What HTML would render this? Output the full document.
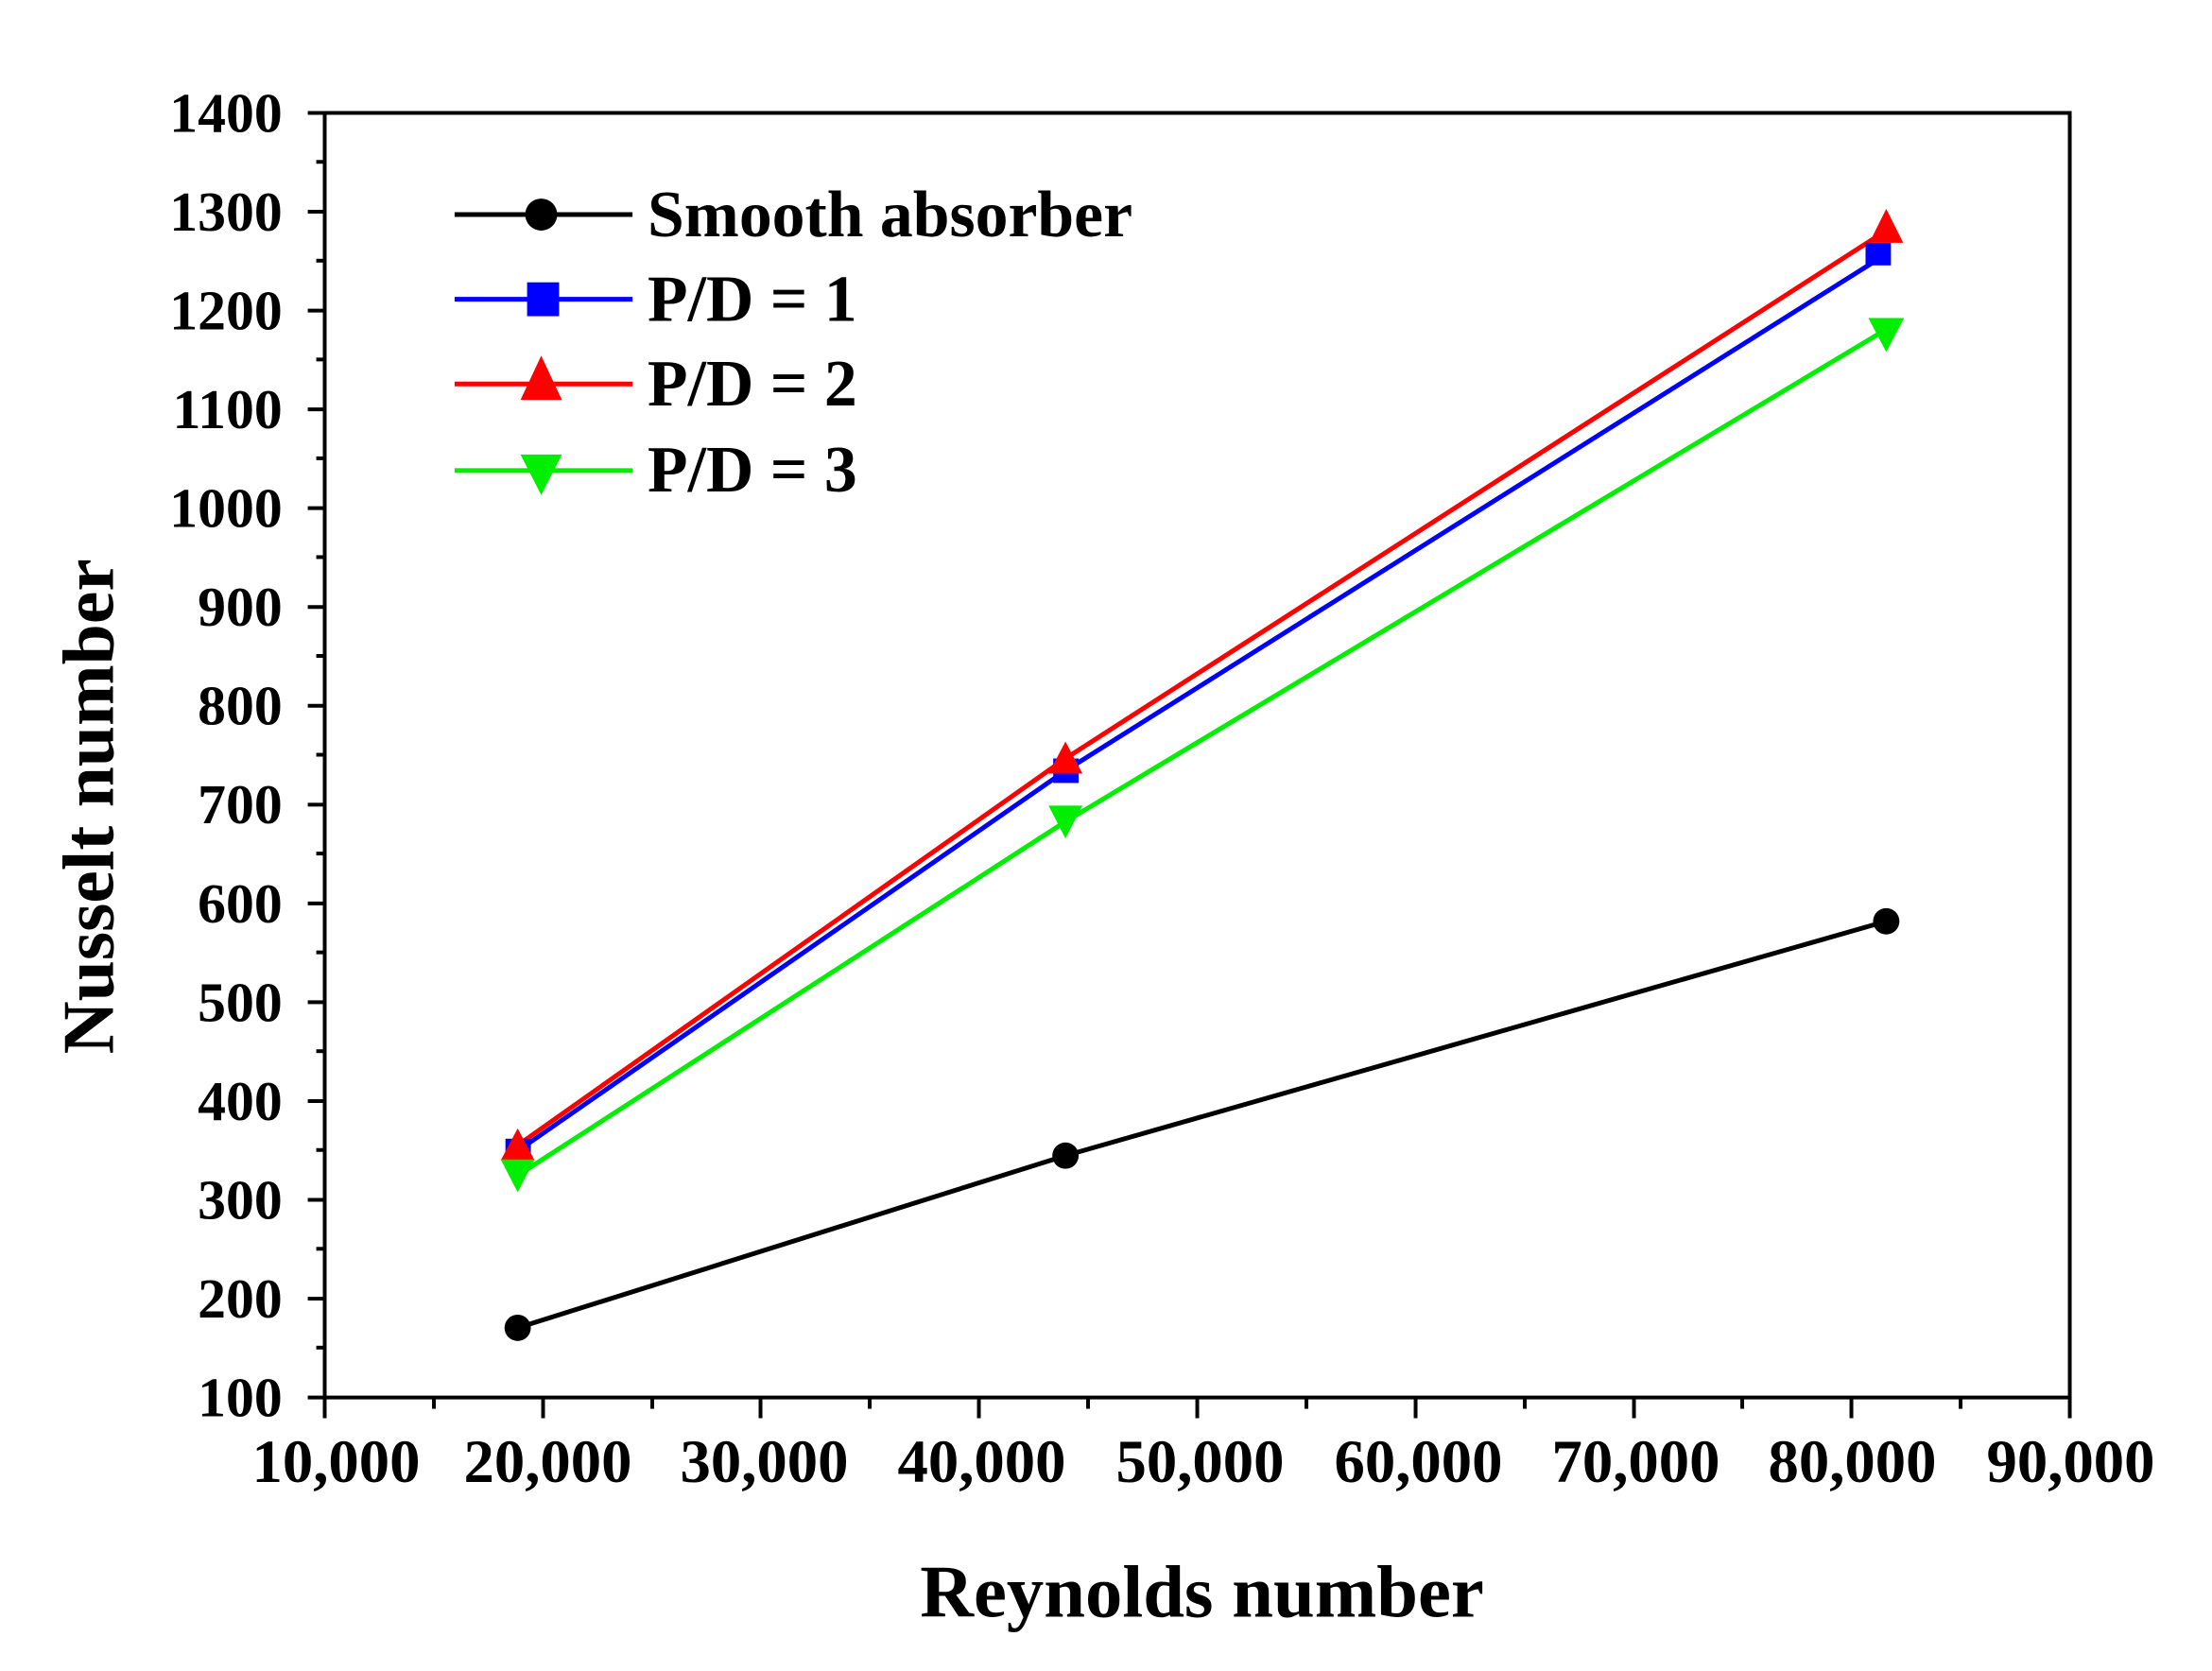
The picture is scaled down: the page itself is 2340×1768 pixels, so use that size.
<!DOCTYPE html>
<html><head><meta charset="utf-8"><style>html,body{margin:0;padding:0;background:#fff}svg{display:block}</style></head>
<body>
<svg width="2340" height="1768" viewBox="0 0 2340 1768" xmlns="http://www.w3.org/2000/svg" font-family="'Liberation Serif', serif" font-weight="bold">
<rect width="2340" height="1768" fill="#fff"/>
<g transform="scale(0.9957)">
<rect x="345" y="120" width="1854" height="1365" fill="none" stroke="#000" stroke-width="4"/>
<g stroke="#000" stroke-width="4">
<line x1="327" y1="1485" x2="345" y2="1485"/><line x1="327" y1="1380" x2="345" y2="1380"/><line x1="327" y1="1275" x2="345" y2="1275"/><line x1="327" y1="1170" x2="345" y2="1170"/><line x1="327" y1="1065" x2="345" y2="1065"/><line x1="327" y1="960" x2="345" y2="960"/><line x1="327" y1="855" x2="345" y2="855"/><line x1="327" y1="750" x2="345" y2="750"/><line x1="327" y1="645" x2="345" y2="645"/><line x1="327" y1="540" x2="345" y2="540"/><line x1="327" y1="435" x2="345" y2="435"/><line x1="327" y1="330" x2="345" y2="330"/><line x1="327" y1="225" x2="345" y2="225"/><line x1="327" y1="120" x2="345" y2="120"/>
<line x1="336" y1="1432" x2="345" y2="1432"/><line x1="336" y1="1327" x2="345" y2="1327"/><line x1="336" y1="1222" x2="345" y2="1222"/><line x1="336" y1="1117" x2="345" y2="1117"/><line x1="336" y1="1012" x2="345" y2="1012"/><line x1="336" y1="907" x2="345" y2="907"/><line x1="336" y1="802" x2="345" y2="802"/><line x1="336" y1="697" x2="345" y2="697"/><line x1="336" y1="592" x2="345" y2="592"/><line x1="336" y1="487" x2="345" y2="487"/><line x1="336" y1="382" x2="345" y2="382"/><line x1="336" y1="277" x2="345" y2="277"/><line x1="336" y1="172" x2="345" y2="172"/>
<line x1="345" y1="1485" x2="345" y2="1507"/><line x1="577" y1="1485" x2="577" y2="1507"/><line x1="808" y1="1485" x2="808" y2="1507"/><line x1="1040" y1="1485" x2="1040" y2="1507"/><line x1="1272" y1="1485" x2="1272" y2="1507"/><line x1="1504" y1="1485" x2="1504" y2="1507"/><line x1="1736" y1="1485" x2="1736" y2="1507"/><line x1="1967" y1="1485" x2="1967" y2="1507"/><line x1="2199" y1="1485" x2="2199" y2="1507"/>
<line x1="461" y1="1485" x2="461" y2="1497"/><line x1="693" y1="1485" x2="693" y2="1497"/><line x1="924" y1="1485" x2="924" y2="1497"/><line x1="1156" y1="1485" x2="1156" y2="1497"/><line x1="1388" y1="1485" x2="1388" y2="1497"/><line x1="1620" y1="1485" x2="1620" y2="1497"/><line x1="1851" y1="1485" x2="1851" y2="1497"/><line x1="2083" y1="1485" x2="2083" y2="1497"/>
</g>
<g font-size="60" text-anchor="end" fill="#000">
<text x="300" y="1505">100</text><text x="300" y="1400">200</text><text x="300" y="1295">300</text><text x="300" y="1190">400</text><text x="300" y="1085">500</text><text x="300" y="980">600</text><text x="300" y="875">700</text><text x="300" y="770">800</text><text x="300" y="665">900</text><text x="300" y="560">1000</text><text x="300" y="455">1100</text><text x="300" y="350">1200</text><text x="300" y="245">1300</text><text x="300" y="140">1400</text>
</g>
<g font-size="65" text-anchor="middle" fill="#000">
<text x="357" y="1575">10,000</text><text x="582" y="1575">20,000</text><text x="812" y="1575">30,000</text><text x="1043" y="1575">40,000</text><text x="1275" y="1575">50,000</text><text x="1507" y="1575">60,000</text><text x="1738" y="1575">70,000</text><text x="1968" y="1575">80,000</text><text x="2200" y="1575">90,000</text>
</g>
<text x="1277" y="1718" font-size="79" text-anchor="middle">Reynolds number</text>
<text transform="translate(120,857) rotate(-90)" font-size="78" text-anchor="middle">Nusselt number</text>
<g fill="none" stroke-width="5">
<polyline stroke="#000" points="550,1411 1132,1228 2004,979"/>
<polyline stroke="#0000ff" points="550,1223 1132,819 2004,270"/>
<polyline stroke="#ff0000" points="550,1217 1132,806 2004,245"/>
<polyline stroke="#00ee00" points="550,1249 1132,873 2004,350"/>
</g>
<g fill="#000"><circle cx="550" cy="1411" r="14"/><circle cx="1132" cy="1228" r="14"/><circle cx="2004" cy="979" r="14"/></g>
<g fill="#0000ff"><rect x="537" y="1210" width="27" height="26"/><rect x="1119" y="806" width="27" height="26"/><rect x="1982" y="258" width="27" height="24"/></g>
<g fill="#ff0000"><polygon points="550,1199 532,1233 568,1233"/><polygon points="1132,788 1114,822 1150,822"/><polygon points="2004,222 1986,258 2022,258"/></g>
<g fill="#00ee00"><polygon points="550,1267 532,1232 568,1232"/><polygon points="1132,891 1114,856 1150,856"/><polygon points="2004,374 1985,338 2023,338"/></g>
<g stroke-width="5">
<line x1="483" y1="228" x2="672" y2="228" stroke="#000"/>
<line x1="483" y1="318" x2="672" y2="318" stroke="#0000ff"/>
<line x1="483" y1="408" x2="672" y2="408" stroke="#ff0000"/>
<line x1="483" y1="500" x2="672" y2="500" stroke="#00ee00"/>
</g>
<circle cx="575" cy="228" r="17" fill="#000"/>
<rect x="560" y="300" width="34" height="36" fill="#0000ff"/>
<polygon points="575,378 553,425 597,425" fill="#ff0000"/>
<polygon points="575,526 553,483 597,483" fill="#00ee00"/>
<g font-size="70" fill="#000">
<text x="688" y="251">Smooth absorber</text>
<text x="688" y="341">P/D = 1</text>
<text x="688" y="431">P/D = 2</text>
<text x="688" y="522">P/D = 3</text>
</g>
</g>
</svg>
</body></html>
